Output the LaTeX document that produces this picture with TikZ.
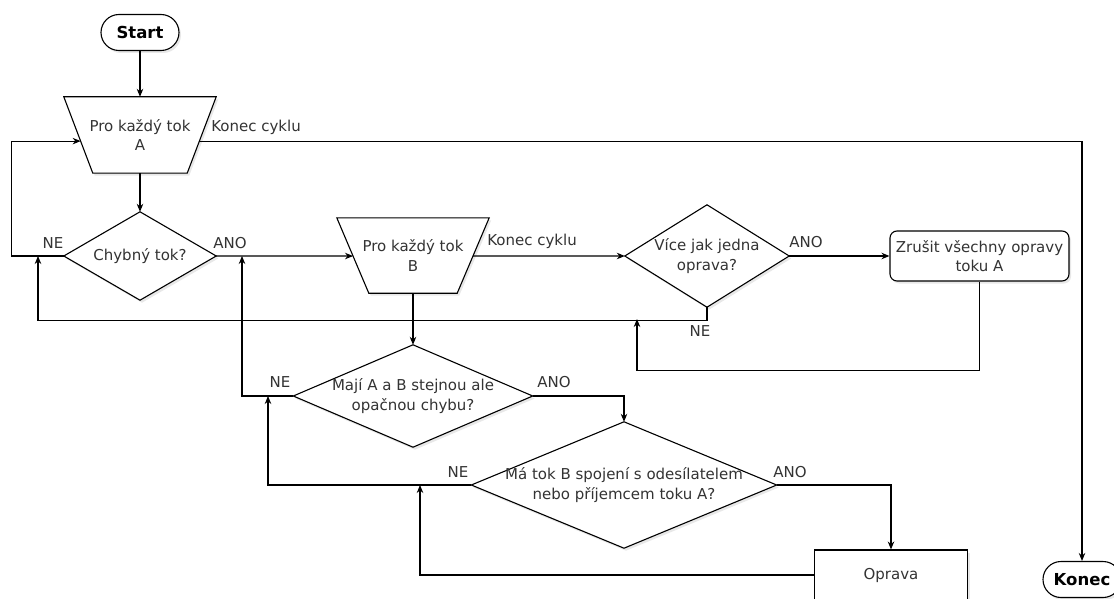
\documentclass[tikz,border=0pt]{standalone}
\usepackage{fontspec}
\setmainfont{DejaVu Sans}
\usetikzlibrary{arrows.meta,calc,backgrounds,shadows}
\definecolor{txtc}{HTML}{333333}
\begin{document}
\begin{tikzpicture}[x=1pt,y=-1pt,
  every node/.style={font=\fontsize{15}{19.5}\selectfont, text=txtc, align=center, inner sep=0pt},
  shp/.style={draw=black, line width=1.1pt, fill=white,
    drop shadow={opacity=0.18, shadow xshift=2pt, shadow yshift=-2.5pt}},
  term/.style={shp, rounded corners=18pt, minimum width=78, minimum height=36,
    font=\bfseries\fontsize{16.5}{20}\selectfont, text=black},
  conn/.style={draw=black, line width=1.1pt},
  arr/.style={conn, -{Stealth[length=8pt,width=6.5pt]}},
  lbl/.style={font=\fontsize{15}{18}\selectfont}
]
\clip (0,0) rectangle (1114,599);

% nodes
\node[term] (start) at (140,32.5) {Start};
\node[minimum width=152, minimum height=76] (trapA) at (140,135) {Pro každý tok\\A};
\node[minimum width=152, minimum height=88] (chyb) at (140,256) {Chybný tok?};
\node[minimum width=152, minimum height=75] (trapB) at (413,255.5) {Pro každý tok\\B};
\node[minimum width=164, minimum height=102] (vice) at (707,256) {Více jak jedna\\oprava?};
\node[shp, rounded corners=7pt, minimum width=179, minimum height=50] (zrus) at (979.5,256) {Zrušit všechny opravy\\toku A};
\node[minimum width=239, minimum height=102] (maji) at (413,396) {Mají A a B stejnou ale\\opačnou chybu?};
\node[minimum width=305, minimum height=126] (ma) at (624,485) {Má tok B spojení s odesílatelem\\nebo příjemcem toku A?};
\node[shp, minimum width=153, minimum height=50] (oprava) at (891,575) {Oprava};
\node[term] (konec) at (1082,579.5) {Konec};

\begin{scope}[on background layer]
  \fill[white] (0,0) rectangle (1114,599);
  \path[shp] (trapA.north west) -- (trapA.north east) -- ([xshift=-29pt]trapA.south east) -- ([xshift=29pt]trapA.south west) -- cycle;
  \path[shp] (trapB.north west) -- (trapB.north east) -- ([xshift=-32pt]trapB.south east) -- ([xshift=32pt]trapB.south west) -- cycle;
  \path[shp] (chyb.north) -- (chyb.east) -- (chyb.south) -- (chyb.west) -- cycle;
  \path[shp] (vice.north) -- (vice.east) -- (vice.south) -- (vice.west) -- cycle;
  \path[shp] (maji.north) -- (maji.east) -- (maji.south) -- (maji.west) -- cycle;
  \path[shp] (ma.north) -- (ma.east) -- (ma.south) -- (ma.west) -- cycle;
\end{scope}

% connection points
\coordinate (aL) at ($(trapA.north west)!0.58!([xshift=29pt]trapA.south west)$);
\coordinate (aR) at ($(trapA.north east)!0.58!([xshift=-29pt]trapA.south east)$);
\coordinate (bL) at ($(trapB.north west)!0.507!([xshift=32pt]trapB.south west)$);
\coordinate (bR) at ($(trapB.north east)!0.507!([xshift=-32pt]trapB.south east)$);
\coordinate (j1) at (38,256);
\coordinate (j2) at (637,319);
\coordinate (j3) at (242,256);
\coordinate (j4) at (268,396);
\coordinate (j5) at (420,485);

% connectors
\draw[arr] (start.south) -- (trapA.north);
\draw[arr] (trapA.south) -- (chyb.north);
\draw[arr] (aR) -- (aR -| konec.north) -- (konec.north);
\draw[arr] (chyb.west) -- ++(-52,0) |- (aL);
\draw[arr] (chyb.east) -- (bL);
\draw[arr] (bR) -- (vice.west);
\draw[arr] (vice.east) -- (zrus.west);
\draw[arr] (vice.south) -- ++(0,13) -| (j1);
\draw[arr] (zrus.south) -- ++(0,89) -| (j2);
\draw[arr] (trapB.south) -- (maji.north);
\draw[arr] (maji.west) -| (j3);
\draw[arr] (maji.east) -| (ma.north);
\draw[arr] (ma.west) -| (j4);
\draw[arr] (ma.east) -| (oprava.north);
\draw[arr] (oprava.west) -| (j5);

% labels
\node[lbl] (kc1) at (256,127) {Konec cyklu};
\node[lbl] (ne1) at (53,243) {NE};
\node[lbl] (ano1) at (230,243) {ANO};
\node[lbl] (kc2) at (532,241) {Konec cyklu};
\node[lbl] (ano2) at (806,242) {ANO};
\node[lbl] (ne2) at (700,331) {NE};
\node[lbl] (ne3) at (280,382) {NE};
\node[lbl] (ano3) at (554,382) {ANO};
\node[lbl] (ne4) at (458,472) {NE};
\node[lbl] (ano4) at (790,472) {ANO};
\end{tikzpicture}
\end{document}
